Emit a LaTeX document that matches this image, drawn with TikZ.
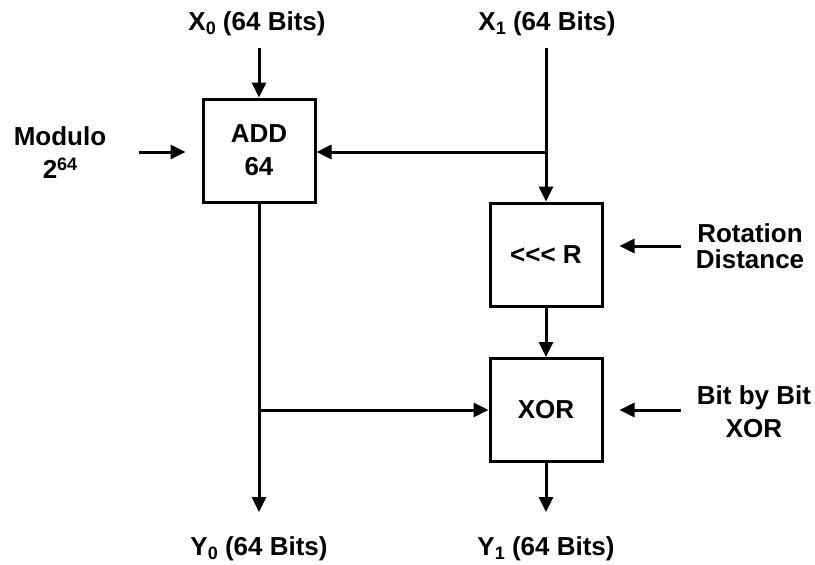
\documentclass[tikz,border=0pt]{standalone}
\usepackage{fontspec}
\setmainfont{Liberation Sans}
\usetikzlibrary{arrows.meta}
\newcommand\mysub[1]{\raisebox{-4.5pt}{\fontsize{18}{18}\selectfont #1}}
\newcommand\mysup[1]{\raisebox{8.5pt}{\fontsize{18}{18}\selectfont #1}}
\begin{document}
\begin{tikzpicture}[x=1pt,y=-1pt,
  lbl/.style={font=\fontsize{26}{26}\selectfont\bfseries, inner sep=0pt, align=center},
  blk/.style={draw, line width=3pt, minimum width=112pt, minimum height=103pt, inner sep=0pt, font=\fontsize{26}{26}\selectfont\bfseries, align=center},
  arr/.style={line width=3pt, -{Triangle[length=15pt,width=14pt]}},
  gap/.style={shorten >=16pt}]
\useasboundingbox (0,0) rectangle (815,565);
% blocks
\node[blk] (add) at (259,150.5) {ADD\\[7pt]64};
\node[blk] (rot) at (546,254.5) {<\kern0pt<\kern0pt< R};
\node[blk] (xor) at (546,410) {XOR};
% labels
\node[lbl, anchor=base] (x0) at (257,30) {X\mysub{0} (64 Bits)};
\node[lbl, anchor=base] (x1) at (547,30) {X\mysub{1} (64 Bits)};
\node[lbl, anchor=base] (y0) at (259,555) {Y\mysub{0} (64 Bits)};
\node[lbl, anchor=base] (y1) at (546,555) {Y\mysub{1} (64 Bits)};
\node[lbl] (mod) at (60,153) {Modulo\\[7pt]2\mysup{64}};
\node[lbl] (rd) at (750,246) {Rotation\\Distance};
\node[lbl] (bb) at (754,412) {Bit by Bit\\[7pt]XOR};
% coordinates
\coordinate (x0s) at (259,48);
\coordinate (x1s) at (546,48);
\coordinate (br1) at (546,152);
\coordinate (mods) at (139,152);
\coordinate (y0e) at (259,512);
\coordinate (br0) at (259,410);
\coordinate (y1e) at (546,512);
\coordinate (rots) at (681,246);
\coordinate (bits) at (681,410);
% connectors
\draw[arr] (x0s) -- (add);
\draw[arr] (x1s) -- (rot);
\draw[arr] (br1) -- (add.east |- br1);
\draw[arr, gap] (mods) -- (add.west |- mods);
\draw[arr] (add) -- (y0e);
\draw[arr] (br0) -- (xor);
\draw[arr] (rot) -- (xor);
\draw[arr] (xor) -- (y1e);
\draw[arr, gap] (rots) -- (rot.east |- rots);
\draw[arr, gap] (bits) -- (xor);
\end{tikzpicture}
\end{document}
